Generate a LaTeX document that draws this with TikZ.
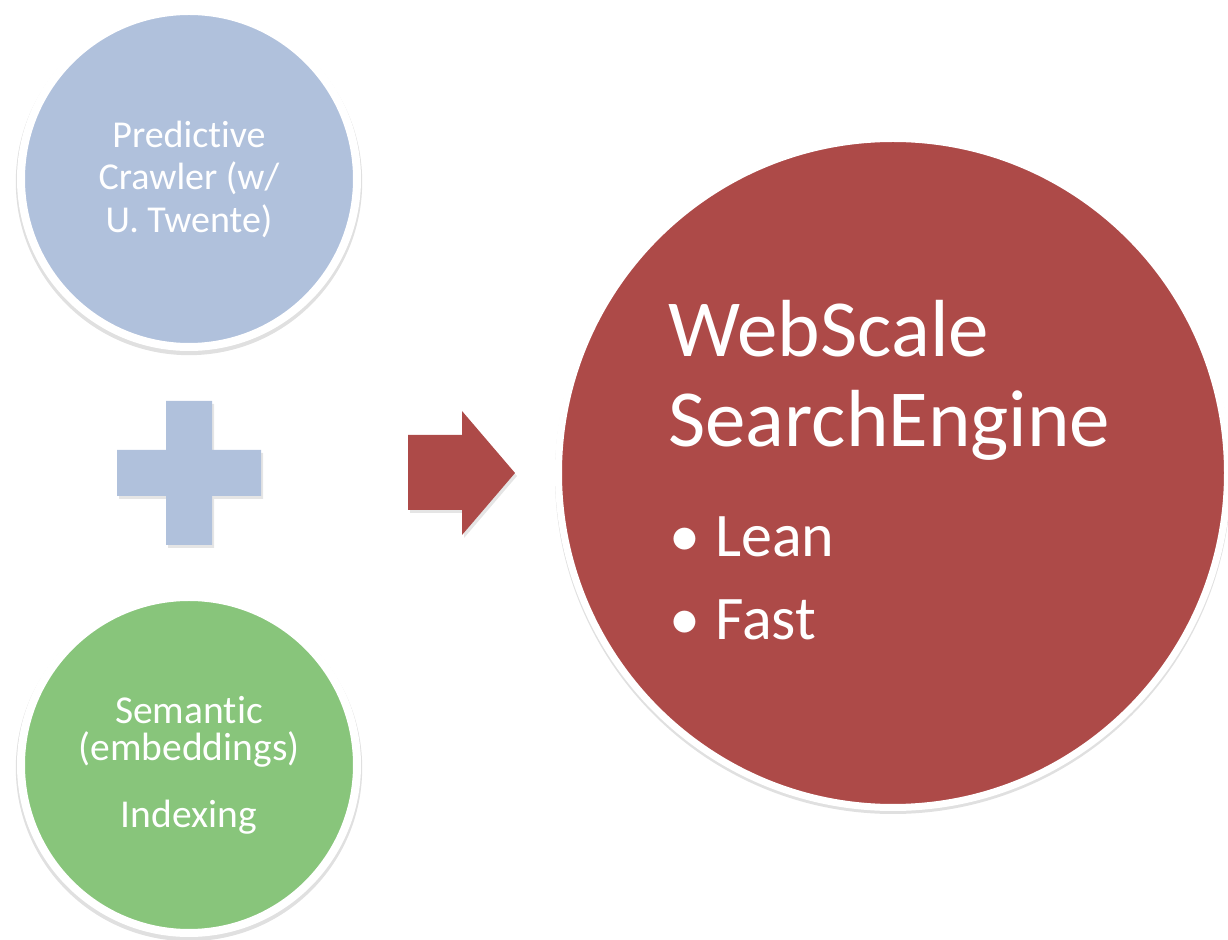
\documentclass[tikz,border=0pt]{standalone}
\usepackage{fontspec}
\setmainfont{Carlito}[Ligatures=NoCommon]
\usetikzlibrary{positioning}
\definecolor{mBlue}{HTML}{B0C1DC}
\definecolor{mGreen}{HTML}{88C57B}
\definecolor{mBrick}{HTML}{AD4A48}
\definecolor{mShade}{HTML}{E0E0E0}

\begin{document}
\begin{tikzpicture}[x=0.5pt, y=-0.5pt,
    bubble/.style={circle, draw=white, line width=4pt, text=white, align=center, inner sep=0pt},
    label/.style={text=white, anchor=base west, inner sep=0pt}]
    \useasboundingbox (0,0) rectangle (1228,940);
    % soft rims under the circles
    \fill[mShade] (189,182) circle (86.6pt);
    \fill[mShade] (189,768) circle (86.6pt);
    \fill[mShade] (893,476) circle (169pt);
    \node[bubble, fill=mBlue, minimum size=168pt, font=\fontsize{19}{21.25}\selectfont]
      (crawler) at (189,179) {Predictive\\Crawler (w/\\U. Twente)};
    \node[bubble, fill=mGreen, minimum size=168pt, font=\fontsize{19.75}{18.5}\selectfont]
      (semantic) at (189,765) {Semantic\\(embeddings)\\[15pt]Indexing};
    % plus sign
    \fill[black!10] (168,404) -| (214,453) -| (263,499) -| (214,548) -| (168,499) -| (119,453) -| (168,404) -- cycle;
    \fill[mBlue] (166,401) -| (212,450) -| (261,496) -| (212,545) -| (166,496) -| (117,450) -| (166,401) -- cycle;
    % block arrow
    \fill[black!10] (410,438) -- (464,438) -- (464,414) -- (517,476) -- (464,538) -- (464,513) -- (410,513) -- cycle;
    \fill[mBrick] (408,435) -- (462,435) -- (462,411) -- (515,473) -- (462,535) -- (462,510) -- (408,510) -- cycle;
    \node[bubble, fill=mBrick, line width=3.5pt, minimum size=334.5pt] (engine) at (893,473) {};
    \node[label, font=\fontsize{40.5}{45}\selectfont] (web) at (668,357) {WebScale};
    \node[label, font=\fontsize{40.5}{45}\selectfont] (search) at (668,447) {SearchEngine};
    \node[label, font=\fontsize{31}{41.5}\selectfont] (lean) at (669,557) {\makebox[23pt][l]{•}Lean};
    \node[label, font=\fontsize{31}{41.5}\selectfont] (fast) at (669,640) {\makebox[23pt][l]{•}Fast};
\end{tikzpicture}
\end{document}
